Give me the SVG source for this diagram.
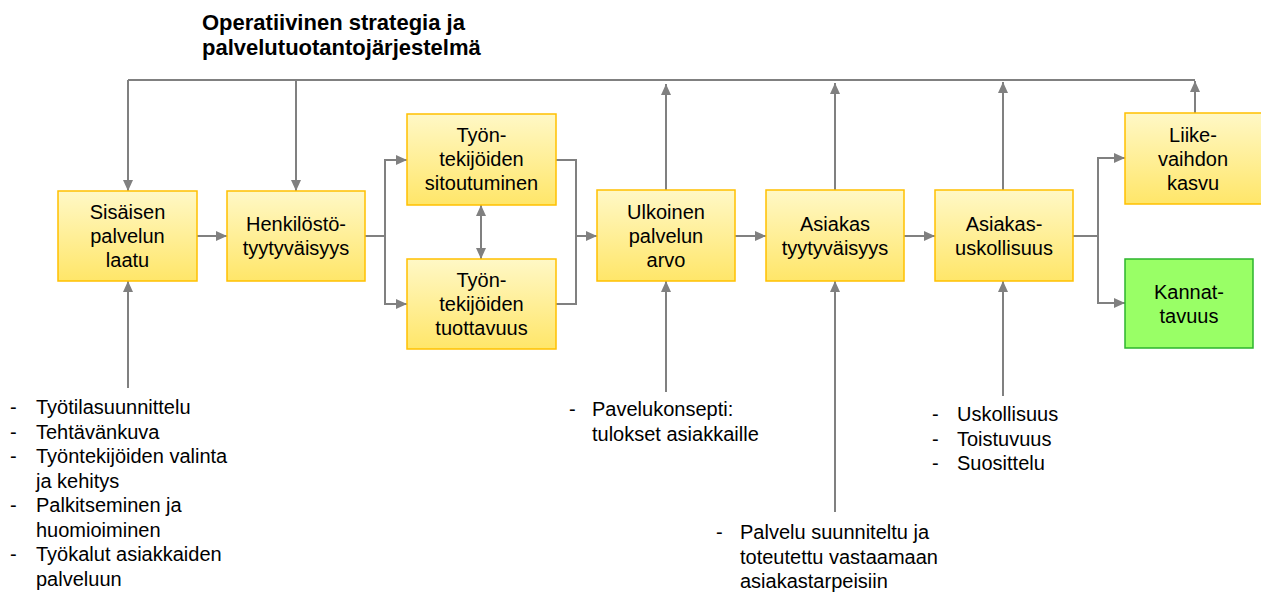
<svg xmlns="http://www.w3.org/2000/svg" width="1261" height="594" viewBox="0 0 1261 594">
  <style>
    text { font-family: "Liberation Sans", Arial, sans-serif; fill: #000; }
    .title { font-size: 22px; font-weight: bold; }
    .node rect.y { fill: url(#yellowFill); stroke: #FFC000; stroke-width: 1.5; }
    .node rect.g { fill: #99FF66; stroke: #2DB52D; stroke-width: 1.5; }
    .node text { font-size: 20px; text-anchor: middle; }
    .list text { font-size: 20px; }
    .conn path { fill: none; stroke: #808080; stroke-width: 2; }
    .arr { marker-end: url(#arrow); }
  </style>
  <defs>
    <linearGradient id="yellowFill" x1="0" y1="0" x2="0" y2="1">
      <stop offset="0" stop-color="#FFF8C6"/>
      <stop offset="1" stop-color="#FFE669"/>
    </linearGradient>
    <marker id="arrow" markerUnits="userSpaceOnUse" markerWidth="11" markerHeight="10" refX="11" refY="5" orient="auto-start-reverse">
      <path d="M0,0 L11,5 L0,10 z" fill="#808080"/>
    </marker>
  </defs>

  <rect width="1261" height="594" fill="#FFFFFF"/>

  <!-- heading -->
  <text class="title" x="202" y="30">Operatiivinen strategia ja</text>
  <text class="title" x="202" y="55">palvelutuotantojärjestelmä</text>

  <!-- connectors -->
  <g id="connectors" class="conn">
    <!-- strategy bus along the top -->
    <path d="M128,80 H1195"/>
    <path class="arr" d="M128,80 V191"/>
    <path class="arr" d="M296,80 V191"/>
    <path class="arr" d="M666,190 V84"/>
    <path class="arr" d="M835,190 V83"/>
    <path class="arr" d="M1003,190 V82"/>
    <path class="arr" d="M1195,113 V81"/>

    <!-- main chain -->
    <path class="arr" d="M197,236 H227"/>
    <path d="M365,236 H385"/>
    <path class="arr" d="M385,236 V160 H407"/>
    <path class="arr" d="M385,236 V304 H407"/>
    <path class="arr" d="M481,205 V259" marker-start="url(#arrow)"/>
    <path d="M556,160 H576 V304 H556"/>
    <path class="arr" d="M576,236 H597"/>
    <path class="arr" d="M735,236 H766"/>
    <path class="arr" d="M904,236 H935"/>
    <path d="M1073,236 H1098"/>
    <path class="arr" d="M1098,236 V158 H1125"/>
    <path class="arr" d="M1098,236 V303 H1125"/>

    <!-- inputs from below -->
    <path class="arr" d="M128,388 V281"/>
    <path class="arr" d="M666,392 V281"/>
    <path class="arr" d="M835,512 V281"/>
    <path class="arr" d="M1003,396 V281"/>
  </g>

  <!-- nodes -->
  <g id="sisainen" class="node">
    <rect class="y" x="58" y="191" width="139" height="90"/>
    <text x="127.5" y="219">Sisäisen</text>
    <text x="127.5" y="243">palvelun</text>
    <text x="127.5" y="267">laatu</text>
  </g>
  <g id="henkilosto" class="node">
    <rect class="y" x="227" y="191" width="138" height="90"/>
    <text x="296" y="231">Henkilöstö-</text>
    <text x="296" y="255">tyytyväisyys</text>
  </g>
  <g id="sitoutuminen" class="node">
    <rect class="y" x="407" y="114" width="149" height="91"/>
    <text x="481.5" y="142">Työn-</text>
    <text x="481.5" y="166">tekijöiden</text>
    <text x="481.5" y="190">sitoutuminen</text>
  </g>
  <g id="tuottavuus" class="node">
    <rect class="y" x="407" y="259" width="149" height="90"/>
    <text x="481.5" y="287">Työn-</text>
    <text x="481.5" y="311">tekijöiden</text>
    <text x="481.5" y="335">tuottavuus</text>
  </g>
  <g id="ulkoinen" class="node">
    <rect class="y" x="597" y="190" width="138" height="91"/>
    <text x="666" y="219">Ulkoinen</text>
    <text x="666" y="243">palvelun</text>
    <text x="666" y="267">arvo</text>
  </g>
  <g id="tyytyvaisyys" class="node">
    <rect class="y" x="766" y="190" width="138" height="91"/>
    <text x="835" y="231">Asiakas</text>
    <text x="835" y="255">tyytyväisyys</text>
  </g>
  <g id="uskollisuus" class="node">
    <rect class="y" x="935" y="190" width="138" height="91"/>
    <text x="1004" y="231">Asiakas-</text>
    <text x="1004" y="255">uskollisuus</text>
  </g>
  <g id="liikevaihto" class="node">
    <rect class="y" x="1125" y="113" width="138" height="91"/>
    <text x="1193" y="142">Liike-</text>
    <text x="1193" y="166">vaihdon</text>
    <text x="1193" y="190">kasvu</text>
  </g>
  <g id="kannattavuus" class="node">
    <rect class="g" x="1125" y="259" width="128" height="89"/>
    <text x="1189" y="299">Kannat-</text>
    <text x="1189" y="323">tavuus</text>
  </g>

  <!-- driver lists -->
  <g id="list-sisainen" class="list">
    <text x="10" y="414">-</text><text x="36" y="414">Työtilasuunnittelu</text>
    <text x="10" y="439">-</text><text x="36" y="439">Tehtävänkuva</text>
    <text x="10" y="463">-</text><text x="36" y="463">Työntekijöiden valinta</text>
    <text x="36" y="488">ja kehitys</text>
    <text x="10" y="512">-</text><text x="36" y="512">Palkitseminen ja</text>
    <text x="36" y="537">huomioiminen</text>
    <text x="10" y="561">-</text><text x="36" y="561">Työkalut asiakkaiden</text>
    <text x="36" y="586">palveluun</text>
  </g>
  <g id="list-ulkoinen" class="list">
    <text x="569" y="416">-</text><text x="592" y="416">Pavelukonsepti:</text>
    <text x="592" y="441">tulokset asiakkaille</text>
  </g>
  <g id="list-tyytyvaisyys" class="list">
    <text x="716" y="539">-</text><text x="740" y="539">Palvelu suunniteltu ja</text>
    <text x="740" y="564">toteutettu vastaamaan</text>
    <text x="740" y="588">asiakastarpeisiin</text>
  </g>
  <g id="list-uskollisuus" class="list">
    <text x="932" y="421">-</text><text x="957" y="421">Uskollisuus</text>
    <text x="932" y="446">-</text><text x="957" y="446">Toistuvuus</text>
    <text x="932" y="470">-</text><text x="957" y="470">Suosittelu</text>
  </g>
</svg>
